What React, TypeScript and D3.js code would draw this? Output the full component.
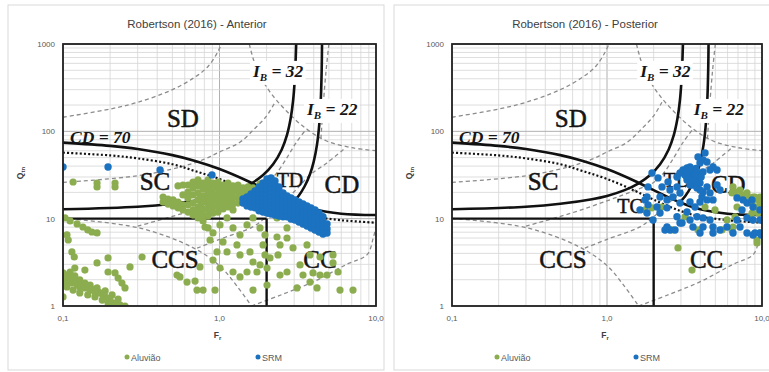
import React, { useEffect, useRef } from 'react';
import * as d3 from 'd3';

type Pt = [number, number];

// ---- chart boundaries (Fr, Qtn) ----
const cd70: Pt[] = [[0.1, 74.2], [0.2, 68.1], [0.3, 62.7], [0.5, 53.4], [0.7, 45.8], [1, 37.0], [1.5, 27.2], [2, 21.2], [3, 15.2], [4, 12.8], [6, 11.4], [10, 11.0]];
const cdDotted: Pt[] = [[0.1, 57], [0.2, 53], [0.3, 49], [0.5, 42], [0.7, 35], [1, 28.5], [1.5, 21], [2, 16.5], [3, 12.2], [4, 10.6], [6, 9.6], [10, 9.0]];
const ib32: Pt[] = [[0.1, 12.8], [0.3, 13.7], [0.5, 14.8], [0.8, 16.7], [1, 18.2], [1.3, 21.2], [1.6, 25.4], [1.9, 31.6], [2.2, 41.9], [2.5, 62], [2.7, 91], [2.85, 141], [2.95, 221], [3.02, 369], [3.06, 600], [3.09, 1000]];
const ib22: Pt[] = [[2.9, 14.9], [3.2, 18.2], [3.5, 23.5], [3.8, 32.9], [4.0, 45], [4.2, 71], [4.35, 126], [4.45, 257], [4.5, 540], [4.52, 1000]];
const q10Line: Pt[] = [[0.1, 10], [2, 10]];
const fr2Line: Pt[] = [[2, 10], [2, 1]];

// dashed grey zone boundaries
const zoneA: Pt[] = [[0.1, 145], [0.2, 180], [0.3, 215], [0.5, 300], [0.7, 420], [0.85, 560], [0.97, 800], [1.03, 1000]];
const zoneB: Pt[] = [[0.1, 26], [0.3, 31], [0.56, 39], [0.8, 48], [1.0, 58], [1.35, 75], [1.7, 110], [2.0, 150], [2.26, 215]];
const zoneC: Pt[] = [[0.3, 8.2], [0.58, 11.5], [1.0, 16], [1.5, 21], [2.0, 26], [2.31, 33], [2.7, 50], [3.1, 75], [3.6, 107]];
const zoneD: Pt[] = [[0.72, 4.6], [1.0, 5.8], [1.62, 8.0], [2.0, 10.5], [2.5, 15], [3.13, 22], [3.79, 31.7], [4.86, 43.5], [6.4, 65]];
const zone1: Pt[] = [[0.1, 10.1], [0.31, 7.8], [0.67, 4.7], [1.0, 2.9], [1.29, 1.7], [1.6, 1.0]];
const zone2: Pt[] = [[1.6, 1.0], [2.5, 1.35], [4.0, 1.9], [6.5, 3.0], [8.8, 3.9], [9.6, 6], [10, 8]];
const zone89: Pt[] = [[1.55, 1000], [1.72, 531], [2.08, 290], [2.67, 172], [3.58, 107], [4.8, 78], [7.0, 65], [10, 60]];
const zone89split: Pt[] = [[5.0, 1000], [4.8, 500], [4.6, 200], [4.45, 84]];

const dashedLines = [zoneA, zoneB, zoneC, zoneD, zone1, zone2, zone89, zone89split];

// ---- measured points ----
const aluviaoAnterior: Pt[] = [
  [0.116, 26.3], [0.165, 25.6], [0.165, 23.1], [0.215, 25.6], [0.215, 23.1],
  [0.103, 10.2], [0.111, 9.41], [0.123, 8.7], [0.134, 8.03], [0.144, 7.43], [0.153, 7.04], [0.165, 6.86], [0.106, 6.51], [0.108, 5.7],
  [0.114, 4.16], [0.118, 3.64], [0.165, 3.11], [0.194, 3.55], [0.268, 2.8], [0.32, 3.64], [0.138, 2.58], [0.194, 2.45],
  [0.1, 2.39], [0.106, 2.26], [0.111, 2.09], [0.1, 2.15], [0.103, 1.99], [0.108, 1.88], [0.114, 1.83], [0.123, 1.74], [0.128, 1.65],
  [0.138, 1.61], [0.149, 1.52], [0.16, 1.45], [0.172, 1.41], [0.186, 1.27], [0.2, 1.17], [0.215, 1.08], [0.231, 1.03], [0.249, 1.0],
  [0.1, 1.88], [0.106, 1.65], [0.116, 1.52], [0.128, 1.41], [0.144, 1.34], [0.16, 1.27], [0.178, 1.17], [0.194, 1.08], [0.209, 1.03],
  [0.111, 2.45], [0.119, 2.21], [0.128, 1.99], [0.138, 1.83], [0.149, 1.74], [0.165, 1.61], [0.186, 1.49], [0.206, 1.34], [0.225, 1.2],
  [0.215, 2.39], [0.225, 2.09], [0.238, 1.83], [0.249, 1.61], [0.1, 1.27], [0.119, 2.72],
  [0.104, 2.1], [0.113, 1.95], [0.121, 1.86], [0.132, 1.72], [0.143, 1.63], [0.155, 1.55], [0.168, 1.44], [0.18, 1.33], [0.197, 1.22],
  [0.535, 2.26], [0.62, 1.88], [0.698, 1.93], [0.785, 1.52], [0.718, 1.52], [0.936, 1.52], [0.75, 2.8], [0.909, 3.36], [0.559, 2.15],
  [0.436, 17.7], [0.436, 15.5], [0.469, 16.8], [0.469, 14.7], [0.505, 16.4], [0.505, 14.0],
  [0.543, 23.7], [0.543, 15.5], [0.543, 13.3],
  [0.584, 24.3], [0.584, 18.7], [0.584, 14.4], [0.584, 12.6],
  [0.629, 24.3], [0.629, 20.2], [0.629, 17.3], [0.629, 14.4], [0.629, 11.9],
  [0.677, 26.3], [0.677, 22.5], [0.677, 18.7], [0.677, 15.1], [0.677, 12.6], [0.677, 11.0],
  [0.729, 27.8], [0.729, 23.7], [0.729, 19.7], [0.729, 16.4], [0.729, 13.6], [0.729, 11.6], [0.729, 10.2],
  [0.785, 25.6], [0.785, 21.9], [0.785, 18.2], [0.785, 15.5], [0.785, 12.9], [0.785, 11.0], [0.785, 9.41],
  [0.845, 27.8], [0.845, 23.7], [0.845, 20.2], [0.845, 17.3], [0.845, 14.7], [0.845, 12.6], [0.845, 10.7], [0.845, 7.83],
  [0.909, 25.6], [0.909, 21.9], [0.909, 18.7], [0.909, 15.9], [0.909, 13.6], [0.909, 11.6], [0.909, 6.86],
  [0.978, 26.3], [0.978, 22.5], [0.978, 19.2], [0.978, 16.4], [0.978, 14.0], [0.978, 11.9],
  [1.053, 24.3], [1.053, 20.8], [1.053, 17.7], [1.053, 15.1], [1.053, 12.9],
  [1.133, 25.6], [1.133, 21.9], [1.133, 18.7], [1.133, 15.9], [1.133, 13.6],
  [1.22, 23.7], [1.22, 20.2], [1.22, 17.3], [1.22, 14.7], [1.22, 12.6],
  [1.313, 24.3], [1.313, 20.8], [1.313, 17.7], [1.313, 15.1],
  [1.413, 22.5], [1.413, 19.2], [1.521, 23.1], [1.521, 19.7], [1.637, 22.5], [1.762, 21.3], [1.897, 19.2],
  [0.757, 25.0], [0.757, 17.7], [0.757, 14.0], [0.876, 22.0], [0.876, 16.0], [0.876, 13.0], [0.94, 24.5], [0.94, 17.5],
  [1.015, 20.5], [1.015, 15.2], [1.09, 23.2], [1.09, 17.0], [1.176, 19.9], [1.176, 16.4], [1.26, 22.0], [1.36, 18.2],
  [0.808, 8.03], [0.87, 5.7], [0.964, 4.16],
  [1.053, 5.41], [1.117, 4.16], [1.293, 5.0], [1.352, 3.84], [1.566, 4.16], [1.637, 3.19], [1.736, 2.45], [1.499, 2.45],
  [1.815, 2.95], [2.012, 2.72], [2.102, 3.55], [2.365, 3.84], [2.33, 6.17], [2.7, 6.01], [2.436, 5.0], [2.949, 4.62],
  [3.624, 5.0], [3.788, 3.84], [3.27, 2.95], [2.7, 2.45], [2.436, 2.26], [3.417, 2.26], [3.958, 2.39], [4.387, 2.26],
  [4.864, 2.26], [3.788, 1.88], [3.128, 1.61], [4.198, 1.61], [5.888, 1.52], [1.637, 1.52], [2.012, 1.74], [1.352, 2.15],
  [1.22, 2.45], [1.007, 2.72], [1.897, 13.6], [2.102, 11.9], [2.33, 10.2], [1.637, 10.2], [1.499, 8.47], [1.815, 7.83],
  [1.352, 6.51], [1.22, 7.83], [1.117, 10.2], [1.007, 8.47], [2.7, 7.83], [5.313, 3.84], [5.718, 2.45], [7.13, 1.52],
  [5.313, 3.11], [4.387, 3.64], [1.953, 6.51], [1.897, 5.0], [1.953, 3.84],
  [1.815, 25.0], [2.012, 22.5], [2.198, 19.7], [2.012, 17.7],
];

const srmAnterior: Pt[] = [
  [0.1, 39.1], [0.194, 39.1], [0.417, 36.1], [0.895, 31.7],
  [1.413, 16.8], [1.413, 15.1],
  [1.499, 17.7], [1.499, 15.9], [1.499, 14.0],
  [1.59, 19.2], [1.59, 17.3], [1.59, 15.5], [1.59, 13.6],
  [1.686, 20.8], [1.686, 18.7], [1.686, 16.8], [1.686, 15.1], [1.686, 13.3],
  [1.788, 23.1], [1.788, 20.8], [1.788, 18.7], [1.788, 16.8], [1.788, 15.1], [1.788, 13.6], [1.788, 12.3],
  [1.897, 25.6], [1.897, 23.1], [1.897, 20.8], [1.897, 18.7], [1.897, 16.8], [1.897, 15.1], [1.897, 13.6], [1.897, 11.9],
  [2.012, 28.5], [2.012, 25.6], [2.012, 23.1], [2.012, 20.8], [2.012, 18.7], [2.012, 16.8], [2.012, 15.1], [2.012, 13.6], [2.012, 11.6],
  [2.134, 29.3], [2.134, 26.3], [2.134, 23.7], [2.134, 21.3], [2.134, 19.2], [2.134, 17.3], [2.134, 15.5], [2.134, 14.0], [2.134, 12.6], [2.134, 11.3],
  [2.262, 27.0], [2.262, 24.3], [2.262, 21.9], [2.262, 19.7], [2.262, 17.7], [2.262, 15.9], [2.262, 14.4], [2.262, 12.9], [2.262, 11.0],
  [2.4, 23.1], [2.4, 20.8], [2.4, 18.7], [2.4, 16.8], [2.4, 15.1], [2.4, 13.6], [2.4, 12.3], [2.4, 10.7],
  [2.546, 19.7], [2.546, 17.7], [2.546, 15.9], [2.546, 14.4], [2.546, 12.9], [2.546, 11.6], [2.546, 10.5],
  [2.7, 18.2], [2.7, 16.4], [2.7, 14.7], [2.7, 13.3], [2.7, 11.9], [2.7, 10.5],
  [2.863, 17.3], [2.863, 15.5], [2.863, 14.0], [2.863, 12.6], [2.863, 11.3], [2.863, 9.92],
  [3.037, 16.4], [3.037, 14.7], [3.037, 13.3], [3.037, 11.9], [3.037, 10.7], [3.037, 9.67],
  [3.221, 15.5], [3.221, 14.0], [3.221, 12.6], [3.221, 11.3], [3.221, 10.2], [3.221, 9.17],
  [3.417, 14.7], [3.417, 13.3], [3.417, 11.9], [3.417, 10.7], [3.417, 9.67], [3.417, 8.7],
  [3.624, 14.0], [3.624, 12.6], [3.624, 11.3], [3.624, 10.2], [3.624, 9.17], [3.624, 8.25],
  [3.843, 13.3], [3.843, 11.9], [3.843, 10.7], [3.843, 9.67], [3.843, 8.7], [3.843, 7.83],
  [4.076, 12.6], [4.076, 11.3], [4.076, 10.2], [4.076, 9.17], [4.076, 8.25], [4.076, 7.43],
  [4.323, 11.6], [4.323, 10.5], [4.323, 9.41], [4.323, 8.47], [4.323, 7.62], [4.323, 7.04],
  [4.585, 10.5], [4.585, 9.17], [4.585, 8.25], [4.585, 7.43], [4.585, 6.68],
  [4.864, 8.7], [4.864, 7.62], [4.864, 6.86],
];

const aluviaoPosterior: Pt[] = [
  [1.759, 12.6], [1.951, 13.3], [2.264, 13.6], [2.626, 7.43], [2.871, 4.62], [3.535, 2.58], [5.52, 7.43], [6.405, 7.43],
  [7.002, 17.7], [7.768, 16.4], [8.619, 15.1], [9.011, 13.6], [9.423, 16.4], [10, 13.6], [6.405, 19.7], [6.696, 20.2],
  [7.43, 18.7], [8.122, 17.7], [9.011, 17.7], [10, 16.4], [9.423, 11.6], [8.619, 11.6], [9.283, 5.7], [9.707, 6.86],
  [6.696, 10.5], [4.289, 13.6], [4.976, 12.6], [3.187, 10.5], [3.865, 7.43], [6.501, 23.1], [7.213, 21.3], [8.002, 19.7],
  [8.748, 17.7], [9.707, 17.7], [9.707, 15.5], [9.283, 13.6], [8.367, 10.5], [6.899, 13.6], [5.946, 9.67], [6.501, 8.03],
  [9.283, 5.27],
];

const srmPosterior: Pt[] = [
  [1.951, 33.4], [2.133, 29.3], [2.264, 23.1], [2.475, 26.3], [2.829, 30.0], [2.958, 33.4], [3.093, 36.1], [3.283, 38.1],
  [3.432, 39.1], [3.588, 36.1], [3.808, 33.4], [3.981, 43.5], [4.164, 47.1], [4.418, 44.6], [4.619, 36.1], [4.83, 39.1],
  [5.126, 36.1], [3.696, 29.3], [3.432, 30.0], [3.283, 27.8], [3.588, 24.3], [3.981, 25.6], [4.418, 23.1], [3.808, 22.5],
  [4.164, 20.2], [4.619, 19.7], [4.101, 17.7], [3.981, 15.5], [5.126, 24.3], [5.358, 21.3], [4.418, 16.4], [4.83, 16.4],
  [2.549, 21.3], [2.829, 23.1], [2.958, 19.7], [2.665, 17.7], [2.439, 16.4], [2.198, 17.7], [1.812, 17.7], [1.839, 14.4],
  [2.102, 13.6], [2.439, 13.3], [2.958, 15.1], [3.432, 15.5], [3.696, 13.6], [3.283, 11.9], [2.829, 10.5], [2.958, 8.93],
  [3.432, 9.67], [3.808, 10.5], [4.164, 10.2], [4.619, 9.67], [3.588, 8.03], [4.164, 8.03], [4.83, 8.03], [3.981, 6.86],
  [4.83, 6.86], [5.358, 7.43], [5.946, 8.03], [6.501, 6.86], [7.213, 8.03], [6.899, 9.67], [8.002, 10.2], [8.748, 9.67],
  [9.707, 9.67], [8.002, 6.86], [8.748, 6.51], [9.707, 6.86], [7.43, 12.6], [8.002, 15.1], [8.748, 13.6], [9.707, 12.6],
  [8.619, 16.4], [7.541, 16.4], [6.899, 17.3], [2.549, 7.43], [2.439, 8.03], [1.981, 9.67], [2.198, 11.6], [1.633, 12.6],
  [1.812, 11.6], [4.289, 56.6], [3.865, 50.9], [1.839, 23.1], [1.759, 16.4], [2.367, 7.43], [2.746, 7.43], [3.047, 8.93],
  [3.187, 31.7], [3.535, 33.4], [3.865, 29.3], [4.164, 34.3], [3.432, 24.3], [3.981, 21.3], [9.011, 6.86], [9.9, 6.5],
  [3.35, 34.5], [3.7, 31.5], [3.55, 27.5], [3.25, 30.5], [3.9, 26.5], [3.75, 37.5], [4.05, 30.0], [3.4, 36.8],
];

const zoneLabels: { t: string; at: Pt; size: number }[] = [
  { t: 'SD', at: [0.584, 112], size: 25 },
  { t: 'SC', at: [0.387, 21.3], size: 25 },
  { t: 'TD', at: [2.82, 23.1], size: 20 },
  { t: 'CD', at: [6.06, 19.7], size: 25 },
  { t: 'CCS', at: [0.52, 2.72], size: 25 },
  { t: 'CC', at: [4.39, 2.72], size: 25 },
];
const tcLabel = { t: 'TC', at: [1.41, 11.6] as Pt, size: 20 };

const xTickValues = [0.1, 1, 10];
const xTickLabels = ['0,1', '1,0', '10,0'];
const yTickValues = [1, 10, 100, 1000];
const yTickLabels = ['1', '10', '100', '1000'];

const GREEN = '#8cad4f';
const BLUE = '#1b72c0';

const panels = [
  {
    title: 'Robertson (2016) - Anterior',
    box: [8, 5, 376, 365],
    plot: [63, 44, 376, 306],
    aluviao: aluviaoAnterior,
    srm: srmAnterior,
    legend: [127, 258],
    tc: false,
  },
  {
    title: 'Robertson (2016) - Posterior',
    box: [394, 5, 390, 365],
    plot: [452, 44, 762, 306],
    aluviao: aluviaoPosterior,
    srm: srmPosterior,
    legend: [497, 636],
    tc: true,
  },
];

const SANS = '"Liberation Sans", Arial, sans-serif';
const SERIF = '"Liberation Serif", "Times New Roman", serif';

function drawPanel(svg: any, p: any, idx: number) {
  const [bx, by, bw, bh] = p.box;
  const [px0, py0, px1, py1] = p.plot;
  const g = svg.append('g');

  g.append('rect')
    .attr('x', bx).attr('y', by).attr('width', bw).attr('height', bh)
    .attr('fill', '#fff').attr('stroke', '#d9d9d9');

  g.append('text')
    .attr('x', idx ? 585 : 197).attr('y', 28)
    .attr('text-anchor', 'middle')
    .style('font-family', SANS).style('font-size', '11.5px').style('fill', '#404040')
    .text(p.title);

  const x = d3.scaleLog().domain([0.1, 10]).range([px0, px1]);
  const y = d3.scaleLog().domain([1, 1000]).range([py1, py0]);

  const clipId = `plotclip${idx}`;
  g.append('clipPath').attr('id', clipId)
    .append('rect').attr('x', px0).attr('y', py0).attr('width', px1 - px0).attr('height', py1 - py0);

  const isMajor = (v: number) => Math.abs(Math.log10(v) - Math.round(Math.log10(v))) < 1e-6;

  // grid
  const grid = g.append('g');
  grid.selectAll('.vx').data(x.ticks()).enter().append('line')
    .attr('x1', (d: number) => x(d)).attr('x2', (d: number) => x(d))
    .attr('y1', py0).attr('y2', py1)
    .attr('stroke', (d: number) => (isMajor(d) ? '#b0b0b0' : '#d6d6d6'))
    .attr('stroke-width', (d: number) => (isMajor(d) ? 1 : 0.8));
  grid.selectAll('.hy').data(y.ticks()).enter().append('line')
    .attr('y1', (d: number) => y(d)).attr('y2', (d: number) => y(d))
    .attr('x1', px0).attr('x2', px1)
    .attr('stroke', (d: number) => (isMajor(d) ? '#b0b0b0' : '#d6d6d6'))
    .attr('stroke-width', (d: number) => (isMajor(d) ? 1 : 0.8));

  const line = d3.line<Pt>()
    .x((d) => x(d[0]))
    .y((d) => y(d[1]))
    .curve(d3.curveCatmullRom.alpha(0.5));

  const inner = g.append('g').attr('clip-path', `url(#${clipId})`);

  dashedLines.forEach((ln) => {
    inner.append('path').attr('d', line(ln)).attr('fill', 'none')
      .attr('stroke', '#8c8c8c').attr('stroke-width', 1.3).attr('stroke-dasharray', '4,3');
  });

  inner.append('path').attr('d', line(cdDotted)).attr('fill', 'none')
    .attr('stroke', '#111').attr('stroke-width', 2.2).attr('stroke-dasharray', '2,2.2');

  [cd70, ib32, ib22].forEach((ln) => {
    inner.append('path').attr('d', line(ln)).attr('fill', 'none')
      .attr('stroke', '#111').attr('stroke-width', 2.6);
  });
  [q10Line, fr2Line].forEach((ln) => {
    inner.append('path').attr('d', d3.line<Pt>().x((d) => x(d[0])).y((d) => y(d[1]))(ln))
      .attr('fill', 'none').attr('stroke', '#111').attr('stroke-width', 2.4);
  });

  // zone labels
  const labels = p.tc ? [...zoneLabels, tcLabel] : zoneLabels;
  inner.selectAll('.zl').data(labels).enter().append('text')
    .attr('x', (d: any) => x(d.at[0])).attr('y', (d: any) => y(d.at[1]))
    .attr('text-anchor', 'middle')
    .style('font-family', SERIF).style('font-size', (d: any) => `${d.size}px`)
    .style('fill', '#151515').style('stroke', '#151515').style('stroke-width', 0.5)
    .text((d: any) => d.t);

  // italic boundary labels
  const italicLabel = (at: Pt, main: string, sub: string | null, rest: string, box: boolean) => {
    const t = inner.append('text')
      .attr('x', x(at[0])).attr('y', y(at[1]))
      .style('font-family', SERIF).style('font-size', '17.5px')
      .style('font-weight', 'bold').style('font-style', 'italic').style('fill', '#151515');
    t.append('tspan').text(main);
    if (sub) {
      t.append('tspan').attr('dy', 4).style('font-size', '11px').text(sub);
      t.append('tspan').attr('dy', -4).text(rest);
    } else {
      t.append('tspan').text(rest);
    }
    if (box) {
      const bb = (t.node() as SVGTextElement).getBBox();
      inner.insert('rect', () => t.node())
        .attr('x', bb.x - 2).attr('y', bb.y).attr('width', bb.width + 4).attr('height', bb.height + 2)
        .attr('fill', '#fff');
    }
  };
  italicLabel([0.111, 73.7], 'CD', null, ' = 70', false);
  italicLabel([1.637, 420], 'I', 'B', ' = 32', true);
  italicLabel([3.624, 154], 'I', 'B', ' = 22', true);

  // points
  const pts = inner.append('g');
  pts.selectAll('.ga').data(p.aluviao).enter().append('circle')
    .attr('cx', (d: Pt) => x(d[0])).attr('cy', (d: Pt) => y(d[1])).attr('r', 3.6)
    .attr('fill', GREEN);
  pts.selectAll('.bs').data(p.srm).enter().append('circle')
    .attr('cx', (d: Pt) => x(d[0])).attr('cy', (d: Pt) => y(d[1])).attr('r', 3.7)
    .attr('fill', BLUE);

  // frame
  g.append('rect').attr('x', px0).attr('y', py0).attr('width', px1 - px0).attr('height', py1 - py0)
    .attr('fill', 'none').attr('stroke', '#222').attr('stroke-width', 1.8);

  // tick labels
  g.selectAll('.xt').data(xTickValues).enter().append('text')
    .attr('x', (d: number) => x(d)).attr('y', py1 + 15)
    .attr('text-anchor', 'middle')
    .style('font-family', SANS).style('font-size', '8px').style('fill', '#595959')
    .text((d: number, i: number) => xTickLabels[i]);
  g.selectAll('.yt').data(yTickValues).enter().append('text')
    .attr('x', px0 - 8).attr('y', (d: number) => y(d) + 3)
    .attr('text-anchor', 'end')
    .style('font-family', SANS).style('font-size', '8px').style('fill', '#595959')
    .text((d: number, i: number) => yTickLabels[i]);

  // axis titles
  const fx = g.append('text').attr('x', (px0 + px1) / 2 - 2).attr('y', py1 + 32)
    .attr('text-anchor', 'middle')
    .style('font-family', SANS).style('font-size', '8.5px').style('font-weight', 'bold').style('fill', '#404040');
  fx.append('tspan').text('F');
  fx.append('tspan').attr('dy', 2).style('font-size', '6px').text('r');

  const fy = g.append('text')
    .attr('transform', `translate(${px0 - 40},${(py0 + py1) / 2 - 2}) rotate(-90)`)
    .attr('text-anchor', 'middle')
    .style('font-family', SANS).style('font-size', '8.5px').style('font-weight', 'bold').style('fill', '#404040');
  fy.append('tspan').text('Q');
  fy.append('tspan').attr('dy', 2).style('font-size', '6px').text('tn');

  // legend
  const leg = [
    { name: 'Aluvião', color: GREEN, lx: p.legend[0] },
    { name: 'SRM', color: BLUE, lx: p.legend[1] },
  ];
  leg.forEach((l) => {
    g.append('circle').attr('cx', l.lx).attr('cy', 357).attr('r', 2.5).attr('fill', l.color);
    g.append('text').attr('x', l.lx + 4).attr('y', 360.5)
      .style('font-family', SANS).style('font-size', '9px').style('fill', '#595959')
      .text(l.name);
  });
}

export default function App() {
  const ref = useRef<SVGSVGElement>(null);
  useEffect(() => {
    const svg = d3.select(ref.current);
    svg.selectAll('*').remove();
    svg.append('rect').attr('width', 769).attr('height', 372).attr('fill', '#fff');
    panels.forEach((p, i) => drawPanel(svg, p, i));
  }, []);
  return (
    <svg
      ref={ref}
      width={769}
      height={372}
      style={{ position: 'absolute', left: 0, top: 0, display: 'block' }}
    />
  );
}
